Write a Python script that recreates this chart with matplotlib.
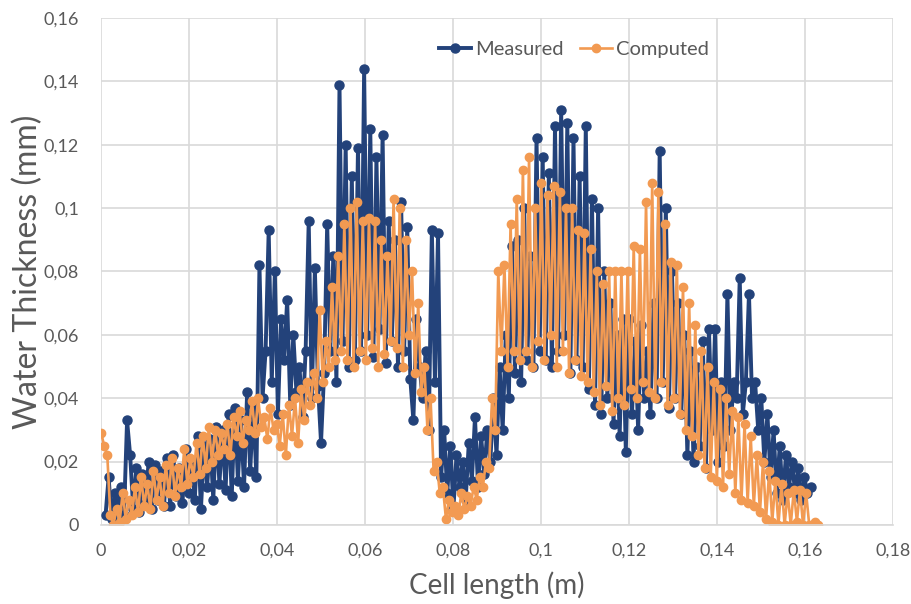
import numpy as np
import matplotlib
matplotlib.use("Agg")
from matplotlib import pyplot as plt

plt.rcParams['font.family'] = ['Lato', 'DejaVu Sans']

# grid step of the cells (m)
dx = 0.0007
measured_x0 = 0.001
computed_x0 = 0.0

measured = [
    0.003, 0.015, 0.002, 0.010, 0.004, 0.012, 0.003, 0.033, 0.022, 0.005,
    0.018, 0.004, 0.016, 0.007, 0.020, 0.005, 0.019, 0.008, 0.017, 0.006,
    0.021, 0.006, 0.022, 0.009, 0.018, 0.007, 0.024, 0.010, 0.020, 0.008,
    0.028, 0.005, 0.025, 0.012, 0.027, 0.008, 0.031, 0.013, 0.030, 0.011,
    0.035, 0.009, 0.037, 0.014, 0.033, 0.012, 0.042, 0.017, 0.038, 0.015,
    0.082, 0.040, 0.055, 0.093, 0.045, 0.080, 0.035, 0.065, 0.052, 0.071,
    0.038, 0.060, 0.042, 0.050, 0.034, 0.055, 0.096, 0.040, 0.081, 0.044,
    0.026, 0.048, 0.095, 0.055, 0.085, 0.045, 0.139, 0.058, 0.120, 0.050,
    0.110, 0.052, 0.119, 0.055, 0.144, 0.060, 0.125, 0.053, 0.116, 0.062,
    0.123, 0.051, 0.096, 0.058, 0.090, 0.050, 0.102, 0.055, 0.094, 0.046,
    0.033, 0.065, 0.050, 0.040, 0.055, 0.030, 0.093, 0.045, 0.092, 0.015,
    0.030, 0.010, 0.025, 0.005, 0.022, 0.012, 0.020, 0.008, 0.026, 0.014,
    0.034, 0.012, 0.028, 0.016, 0.030, 0.020, 0.040, 0.022, 0.050, 0.030,
    0.060, 0.040, 0.088, 0.048, 0.090, 0.045, 0.100, 0.052, 0.085, 0.050,
    0.122, 0.055, 0.116, 0.052, 0.111, 0.050, 0.126, 0.055, 0.131, 0.060,
    0.127, 0.048, 0.122, 0.052, 0.110, 0.050, 0.126, 0.043, 0.103, 0.038,
    0.100, 0.035, 0.080, 0.040, 0.070, 0.032, 0.060, 0.028, 0.065, 0.023,
    0.065, 0.035, 0.058, 0.030, 0.063, 0.040, 0.055, 0.035, 0.070, 0.040,
    0.118, 0.045, 0.100, 0.037, 0.080, 0.040, 0.070, 0.035, 0.060, 0.022,
    0.055, 0.020, 0.050, 0.025, 0.058, 0.018, 0.062, 0.030, 0.062, 0.020,
    0.045, 0.025, 0.073, 0.030, 0.045, 0.040, 0.078, 0.035, 0.045, 0.073,
    0.040, 0.045, 0.030, 0.040, 0.020, 0.035, 0.015, 0.030, 0.010, 0.025,
    0.008, 0.022, 0.012, 0.020, 0.010, 0.018, 0.008, 0.015, 0.010, 0.012,
]

computed = [
    0.029, 0.025, 0.022, 0.003, 0.000, 0.005, 0.001, 0.010, 0.002, 0.008,
    0.003, 0.012, 0.004, 0.015, 0.006, 0.013, 0.005, 0.017, 0.008, 0.015,
    0.006, 0.019, 0.010, 0.021, 0.009, 0.018, 0.012, 0.024, 0.013, 0.021,
    0.015, 0.026, 0.016, 0.028, 0.018, 0.031, 0.020, 0.030, 0.022, 0.029,
    0.024, 0.032, 0.022, 0.034, 0.028, 0.036, 0.026, 0.033, 0.030, 0.039,
    0.029, 0.040, 0.031, 0.034, 0.027, 0.037, 0.030, 0.032, 0.025, 0.035,
    0.022, 0.038, 0.028, 0.040, 0.026, 0.043, 0.033, 0.045, 0.038, 0.048,
    0.040, 0.068, 0.045, 0.058, 0.050, 0.075, 0.052, 0.085, 0.055, 0.095,
    0.052, 0.100, 0.050, 0.102, 0.055, 0.096, 0.052, 0.097, 0.056, 0.096,
    0.050, 0.090, 0.054, 0.085, 0.058, 0.103, 0.056, 0.100, 0.050, 0.090,
    0.060, 0.080, 0.048, 0.070, 0.042, 0.050, 0.030, 0.040, 0.017, 0.020,
    0.010, 0.012, 0.002, 0.008, 0.004, 0.006, 0.003, 0.010, 0.005, 0.009,
    0.006, 0.012, 0.008, 0.015, 0.012, 0.020, 0.018, 0.040, 0.030, 0.080,
    0.055, 0.082, 0.050, 0.095, 0.055, 0.103, 0.052, 0.112, 0.055, 0.116,
    0.050, 0.100, 0.058, 0.108, 0.052, 0.104, 0.060, 0.107, 0.050, 0.105,
    0.055, 0.100, 0.048, 0.100, 0.052, 0.093, 0.047, 0.092, 0.045, 0.087,
    0.042, 0.080, 0.038, 0.076, 0.044, 0.080, 0.036, 0.080, 0.040, 0.080,
    0.038, 0.080, 0.043, 0.088, 0.040, 0.087, 0.045, 0.102, 0.042, 0.108,
    0.040, 0.105, 0.045, 0.095, 0.038, 0.083, 0.040, 0.082, 0.035, 0.075,
    0.030, 0.070, 0.028, 0.063, 0.022, 0.055, 0.018, 0.050, 0.015, 0.045,
    0.014, 0.043, 0.012, 0.040, 0.016, 0.036, 0.010, 0.034, 0.008, 0.032,
    0.007, 0.028, 0.006, 0.022, 0.004, 0.020, 0.002, 0.017, 0.001, 0.014,
    0.000, 0.013, 0.000, 0.010, 0.000, 0.011, 0.001, 0.011, 0.000, 0.010,
    0.000, 0.000, 0.001, 0.000,
]

x_ticks = [0, 0.02, 0.04, 0.06, 0.08, 0.1, 0.12, 0.14, 0.16, 0.18]
x_labels = ['0', '0,02', '0,04', '0,06', '0,08', '0,1', '0,12', '0,14', '0,16', '0,18']
y_ticks = [0, 0.02, 0.04, 0.06, 0.08, 0.1, 0.12, 0.14, 0.16]
y_labels = ['0', '0,02', '0,04', '0,06', '0,08', '0,1', '0,12', '0,14', '0,16']

xm = measured_x0 + dx * np.arange(len(measured))
xc = computed_x0 + dx * np.arange(len(computed))

blue = '#23427A'
orange = '#F29A52'
gray = '#595959'

fig = plt.figure(figsize=(9.11, 6.04), dpi=100)
ax = fig.add_axes([0.111, 0.131, 0.869, 0.839])

ax.plot(xm, measured, color=blue, lw=2.8, marker='o', ms=6.5, label='Measured')
ax.plot(xc, computed, color=orange, lw=1.9, marker='o', ms=6, label='Computed')

ax.set_xlim(0, 0.18)
ax.set_ylim(0, 0.16)
ax.set_xticks(x_ticks)
ax.set_xticklabels(x_labels)
ax.set_yticks(y_ticks)
ax.set_yticklabels(y_labels)
ax.tick_params(length=0, labelsize=13, labelcolor=gray)
ax.tick_params(axis='x', pad=13)
ax.tick_params(axis='y', pad=16)
ax.grid(True, color='#D9D9D9', lw=1.2)
ax.set_axisbelow(True)
for s in ['top', 'right', 'left']:
    ax.spines[s].set_visible(False)
ax.spines['bottom'].set_color('#D9D9D9')
ax.spines['bottom'].set_linewidth(1.2)

ax.set_xlabel('Cell length (m)', fontsize=20, color=gray, labelpad=9)
ax.set_ylabel('Water Thickness (mm)', fontsize=23, color=gray, labelpad=0)

ax.legend(loc='upper center', bbox_to_anchor=(0.597, 0.99), ncol=2, frameon=False,
          fontsize=14.5, labelcolor=gray, handlelength=1.6, columnspacing=0.8,
          handletextpad=0.2)

fig.savefig('out.png', dpi=100)
